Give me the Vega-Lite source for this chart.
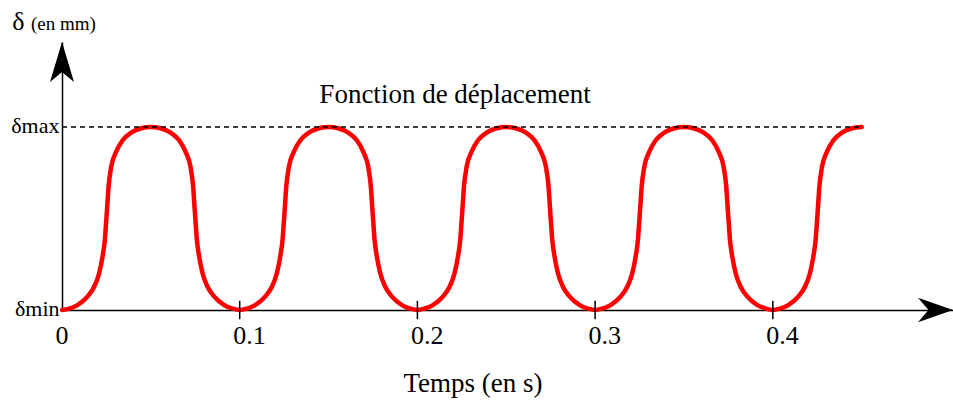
{
  "$schema": "https://vega.github.io/schema/vega-lite/v6.json",
  "width": 891,
  "height": 268,
  "autosize": {"type": "none"},
  "padding": {"left": 62, "top": 42, "right": 0, "bottom": 93},
  "background": "white",
  "config": {"view": {"stroke": null}, "axis": {"grid": false}},
  "data": {"values": [{}]},
  "datasets": {
    "curve": [
      {"t": 0, "d": 0}, {"t": 0.004, "d": 0.008}, {"t": 0.0087, "d": 0.027}, {"t": 0.0143, "d": 0.073}, {"t": 0.0181, "d": 0.127}, {"t": 0.0209, "d": 0.201}, {"t": 0.0228, "d": 0.291}, {"t": 0.0241, "d": 0.383}, {"t": 0.0249, "d": 0.49}, {"t": 0.0254, "d": 0.56}, {"t": 0.0262, "d": 0.674}, {"t": 0.0277, "d": 0.783}, {"t": 0.0305, "d": 0.865}, {"t": 0.0342, "d": 0.929}, {"t": 0.0389, "d": 0.969}, {"t": 0.0446, "d": 0.993}, {"t": 0.05, "d": 1},
      {"t": 0.0554, "d": 0.993}, {"t": 0.0611, "d": 0.969}, {"t": 0.0658, "d": 0.929}, {"t": 0.0695, "d": 0.865}, {"t": 0.0723, "d": 0.783}, {"t": 0.0738, "d": 0.674}, {"t": 0.0746, "d": 0.56}, {"t": 0.0751, "d": 0.49}, {"t": 0.0759, "d": 0.383}, {"t": 0.0772, "d": 0.291}, {"t": 0.0791, "d": 0.201}, {"t": 0.0819, "d": 0.127}, {"t": 0.0857, "d": 0.073}, {"t": 0.0913, "d": 0.027}, {"t": 0.096, "d": 0.008},
      {"t": 0.1, "d": 0}, {"t": 0.104, "d": 0.008}, {"t": 0.1087, "d": 0.027}, {"t": 0.1143, "d": 0.073}, {"t": 0.1181, "d": 0.127}, {"t": 0.1209, "d": 0.201}, {"t": 0.1228, "d": 0.291}, {"t": 0.1241, "d": 0.383}, {"t": 0.1249, "d": 0.49}, {"t": 0.1254, "d": 0.56}, {"t": 0.1262, "d": 0.674}, {"t": 0.1277, "d": 0.783}, {"t": 0.1305, "d": 0.865}, {"t": 0.1342, "d": 0.929}, {"t": 0.1389, "d": 0.969}, {"t": 0.1446, "d": 0.993}, {"t": 0.15, "d": 1},
      {"t": 0.1554, "d": 0.993}, {"t": 0.1611, "d": 0.969}, {"t": 0.1658, "d": 0.929}, {"t": 0.1695, "d": 0.865}, {"t": 0.1723, "d": 0.783}, {"t": 0.1738, "d": 0.674}, {"t": 0.1746, "d": 0.56}, {"t": 0.1751, "d": 0.49}, {"t": 0.1759, "d": 0.383}, {"t": 0.1772, "d": 0.291}, {"t": 0.1791, "d": 0.201}, {"t": 0.1819, "d": 0.127}, {"t": 0.1857, "d": 0.073}, {"t": 0.1913, "d": 0.027}, {"t": 0.196, "d": 0.008},
      {"t": 0.2, "d": 0}, {"t": 0.204, "d": 0.008}, {"t": 0.2087, "d": 0.027}, {"t": 0.2143, "d": 0.073}, {"t": 0.2181, "d": 0.127}, {"t": 0.2209, "d": 0.201}, {"t": 0.2228, "d": 0.291}, {"t": 0.2241, "d": 0.383}, {"t": 0.2249, "d": 0.49}, {"t": 0.2254, "d": 0.56}, {"t": 0.2262, "d": 0.674}, {"t": 0.2277, "d": 0.783}, {"t": 0.2305, "d": 0.865}, {"t": 0.2342, "d": 0.929}, {"t": 0.2389, "d": 0.969}, {"t": 0.2446, "d": 0.993}, {"t": 0.25, "d": 1},
      {"t": 0.2554, "d": 0.993}, {"t": 0.2611, "d": 0.969}, {"t": 0.2658, "d": 0.929}, {"t": 0.2695, "d": 0.865}, {"t": 0.2723, "d": 0.783}, {"t": 0.2738, "d": 0.674}, {"t": 0.2746, "d": 0.56}, {"t": 0.2751, "d": 0.49}, {"t": 0.2759, "d": 0.383}, {"t": 0.2772, "d": 0.291}, {"t": 0.2791, "d": 0.201}, {"t": 0.2819, "d": 0.127}, {"t": 0.2857, "d": 0.073}, {"t": 0.2913, "d": 0.027}, {"t": 0.296, "d": 0.008},
      {"t": 0.3, "d": 0}, {"t": 0.304, "d": 0.008}, {"t": 0.3087, "d": 0.027}, {"t": 0.3143, "d": 0.073}, {"t": 0.3181, "d": 0.127}, {"t": 0.3209, "d": 0.201}, {"t": 0.3228, "d": 0.291}, {"t": 0.3241, "d": 0.383}, {"t": 0.3249, "d": 0.49}, {"t": 0.3254, "d": 0.56}, {"t": 0.3262, "d": 0.674}, {"t": 0.3277, "d": 0.783}, {"t": 0.3305, "d": 0.865}, {"t": 0.3342, "d": 0.929}, {"t": 0.3389, "d": 0.969}, {"t": 0.3446, "d": 0.993}, {"t": 0.35, "d": 1},
      {"t": 0.3554, "d": 0.993}, {"t": 0.3611, "d": 0.969}, {"t": 0.3658, "d": 0.929}, {"t": 0.3695, "d": 0.865}, {"t": 0.3723, "d": 0.783}, {"t": 0.3738, "d": 0.674}, {"t": 0.3746, "d": 0.56}, {"t": 0.3751, "d": 0.49}, {"t": 0.3759, "d": 0.383}, {"t": 0.3772, "d": 0.291}, {"t": 0.3791, "d": 0.201}, {"t": 0.3819, "d": 0.127}, {"t": 0.3857, "d": 0.073}, {"t": 0.3913, "d": 0.027}, {"t": 0.396, "d": 0.008},
      {"t": 0.4, "d": 0}, {"t": 0.404, "d": 0.008}, {"t": 0.4087, "d": 0.027}, {"t": 0.4143, "d": 0.073}, {"t": 0.4181, "d": 0.127}, {"t": 0.4209, "d": 0.201}, {"t": 0.4228, "d": 0.291}, {"t": 0.4241, "d": 0.383}, {"t": 0.4249, "d": 0.49}, {"t": 0.4254, "d": 0.56}, {"t": 0.4262, "d": 0.674}, {"t": 0.4277, "d": 0.783}, {"t": 0.4305, "d": 0.865}, {"t": 0.4342, "d": 0.929}, {"t": 0.4389, "d": 0.969}, {"t": 0.4446, "d": 0.993}, {"t": 0.45, "d": 1}
    ],
    "ticks": [{"t": 0.1}, {"t": 0.2}, {"t": 0.3}, {"t": 0.4}]
  },
  "layer": [
    {
      "data": {"name": "curve"},
      "mark": {"type": "line", "color": "#ff0000", "strokeWidth": 4.5, "interpolate": "monotone", "strokeJoin": "round", "strokeCap": "round"},
      "encoding": {
        "x": {
          "field": "t", "type": "quantitative",
          "scale": {"domain": [0, 0.5014], "nice": false, "zero": false},
          "axis": {
            "values": [0, 0.1, 0.2, 0.3, 0.4], "format": "~g", "title": null,
            "domainColor": "black", "domainWidth": 1.5, "ticks": false, "tickSize": 0,
            "labelFont": "Liberation Serif", "labelFontSize": 26, "labelColor": "black",
            "labelAlign": "left", "labelOffset": -7, "labelBaseline": "alphabetic", "labelPadding": 33,
            "labelFlush": false, "labelOverlap": false
          }
        },
        "y": {
          "field": "d", "type": "quantitative",
          "scale": {"domain": [0, 1.4645], "nice": false, "zero": false},
          "axis": {
            "values": [0, 1], "labelExpr": "datum.value === 1 ? 'δmax' : 'δmin'", "title": null,
            "domainColor": "black", "domainWidth": 1.5, "ticks": false, "tickSize": 0,
            "labelFont": "Liberation Serif", "labelFontSize": 22, "labelColor": "black",
            "labelAlign": "right", "labelBaseline": "alphabetic", "labelOffset": 5, "labelPadding": 3,
            "labelFlush": false, "labelOverlap": false
          }
        }
      }
    },
    {
      "mark": {"type": "rule", "color": "black", "strokeWidth": 1.3, "strokeDash": [5, 4]},
      "encoding": {"x": {"datum": 0}, "x2": {"datum": 0.45}, "y": {"datum": 1}}
    },
    {
      "data": {"name": "ticks"},
      "mark": {"type": "rule", "color": "black", "strokeWidth": 1.5},
      "encoding": {"x": {"field": "t", "type": "quantitative"}, "y": {"datum": -0.05}, "y2": {"datum": 0.05}}
    },
    {
      "mark": {"type": "point", "filled": true, "color": "black", "opacity": 1, "strokeWidth": 0, "size": 1600, "shape": "M0,0 L0.6,2 L0,1.5 L-0.6,2 Z"},
      "encoding": {"x": {"datum": 0}, "y": {"datum": 1.4645}}
    },
    {
      "mark": {"type": "point", "filled": true, "color": "black", "opacity": 1, "strokeWidth": 0, "size": 1225, "shape": "M0,0 L-2,0.7 L-1.4,0 L-2,-0.7 Z"},
      "encoding": {"x": {"datum": 0.5014}, "y": {"datum": 0}}
    },
    {
      "mark": {"type": "text", "text": "Fonction de déplacement", "font": "Liberation Serif", "fontSize": 27, "align": "center", "baseline": "alphabetic", "color": "black"},
      "encoding": {"x": {"datum": 0.2212}, "y": {"datum": 1.133}}
    },
    {
      "mark": {"type": "text", "text": "Temps (en s)", "font": "Liberation Serif", "fontSize": 27, "align": "center", "baseline": "alphabetic", "color": "black"},
      "encoding": {"x": {"datum": 0.2313}, "y": {"datum": -0.448}}
    },
    {
      "mark": {"type": "text", "text": "δ", "font": "Liberation Serif", "fontSize": 26, "align": "left", "baseline": "alphabetic", "color": "black"},
      "encoding": {"x": {"datum": -0.028}, "y": {"datum": 1.53}}
    },
    {
      "mark": {"type": "text", "text": "(en mm)", "font": "Liberation Serif", "fontSize": 19, "align": "left", "baseline": "alphabetic", "color": "black"},
      "encoding": {"x": {"datum": -0.0175}, "y": {"datum": 1.53}}
    }
  ]
}
